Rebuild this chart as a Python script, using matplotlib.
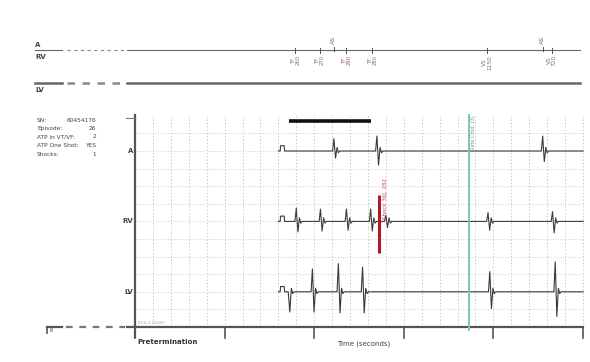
import matplotlib
matplotlib.use("Agg")
import matplotlib.pyplot as plt
import numpy as np

# event times in seconds and deflection sizes in grid units
a_times = [2.22, 2.70, 4.55]
a_up = [0.7, 0.85, 0.85]
a_down = [-0.4, -0.8, -0.6]

rv_times = [1.80, 2.07, 2.36, 2.63, 2.80, 3.94, 4.66]
rv_up = [0.75, 0.7, 0.7, 0.7, 0.35, 0.5, 0.55]
rv_down = [-0.6, -0.55, -0.5, -0.55, -0.35, -0.5, -0.65]

lv_times = [1.71, 1.98, 2.27, 2.54, 3.96, 4.69]
lv_up = [0.0, 1.3, 1.6, 1.4, 1.15, 1.7]
lv_down = [-1.15, -1.15, -1.2, -1.2, -0.95, -1.4]

shock_time = 2.72
shock_span = (4.2, 7.5)
marker_bar = (1.72, 2.63)
rate_cmd_time = 3.73

top_marks = [1.79, 2.06, 2.36, 2.65, 3.93, 4.65]
top_labels = ["TF\n260", "TF\n270", "TF\n290", "TF\n280", "VS\n1150", "VS\n720"]
atrial_marks = [2.22, 4.55]
atrial_labels = ["AS", "AS"]

info_keys = ["SN:", "Episode:", "ATP in VT/VF:", "ATP One Shot:", "Shocks:"]
info_vals = ["60454176", "26", "2", "YES", "1"]
channels = ["A", "RV", "LV"]
baselines = [10, 6, 2]
time_ticks = [0, 1, 2, 3, 4, 5]


def px(x):
    return (x - 135) / 89.6


def py(y):
    return (327 - y) / 17.6


def build_trace(times, ups, downs):
    xs = [1.60, 1.62, 1.625, 1.665, 1.67]
    ys = [0, 0, 0.3, 0.3, 0]
    for t, u, d in zip(times, ups, downs):
        xs += [t - 0.015, t, t + 0.018, t + 0.035, t + 0.05, t + 0.065]
        ys += [0, u, d, 0.2, -0.1, 0]
    xs.append(5.0)
    ys.append(0)
    return np.array(xs), np.array(ys)


fig = plt.figure(figsize=(5.9, 3.62), dpi=100)
ax = fig.add_axes([0, 0, 1, 1])
ax.set_xlim(px(0), px(590))
ax.set_ylim(py(362), py(0))
ax.axis("off")

grid_c = "#bcbcbc"
for gx in np.arange(0.2, 5.01, 0.2):
    ax.plot([gx, gx], [0, py(115)], color=grid_c, lw=0.6, ls=(0, (1.5, 2.5)))
for gy in range(1, 12):
    ax.plot([0, 5], [gy, gy], color=grid_c, lw=0.6, ls=(0, (1, 2)))

# axes frame
ax.plot([0, 0], [py(337), py(115)], color="#555555", lw=1.6)
ax.plot([px(126), 0], [py(118), py(118)], color="#777777", lw=0.8)
ax.plot([px(47), px(47)], [0, py(333)], color="#555555", lw=1.2)
ax.plot([px(47), px(62)], [0, 0], color="#555555", lw=1.6)
ax.plot([px(66), px(125)], [0, 0], color="#777777", lw=1.6, ls=(0, (3, 3)))
ax.plot([px(127), 5.0], [0, 0], color="#555555", lw=1.6)
for tt in time_ticks:
    ax.plot([tt, tt], [0, py(338)], color="#555555", lw=1.2)

# marker channel
for yy, lw in [(py(50), 0.8), (py(83), 1.8)]:
    ax.plot([px(35), px(62)], [yy, yy], color="#666666", lw=lw)
    ax.plot([px(67), px(125)], [yy, yy], color="#888888", lw=lw, ls=(0, (3, 3)))
    ax.plot([px(127), px(580)], [yy, yy], color="#666666", lw=lw)
ax.text(px(35), py(45), "A", fontsize=5, fontweight="bold", color="#444444", va="center")
ax.text(px(35), py(57), "RV", fontsize=5, fontweight="bold", color="#444444", va="center")
ax.text(px(35), py(90), "LV", fontsize=5, fontweight="bold", color="#444444", va="center")

for i, (t, lab) in enumerate(zip(top_marks, top_labels)):
    ax.plot([t, t], [py(48), py(53)], color="#555555", lw=0.7)
    col = "#b05070" if i == 2 else "#777777"
    fs = 4.2 if i >= 4 else 3.8
    ax.text(t, py(55), lab, fontsize=fs, rotation=90, color=col,
            ha="center", va="top", linespacing=0.9)
for t, lab in zip(atrial_marks, atrial_labels):
    ax.plot([t, t], [py(47), py(51)], color="#555555", lw=0.7)
    ax.text(t, py(44), lab, fontsize=4.5, rotation=90, color="#666666",
            ha="center", va="bottom")

# info block
for i, (k, v) in enumerate(zip(info_keys, info_vals)):
    yy = py(120 + i * 8.5)
    ax.text(px(37), yy, k, fontsize=4.2, color="#444444", va="center")
    ax.text(px(96), yy, v, fontsize=4.2, color="#444444", va="center", ha="right")

for name, base in zip(channels, baselines):
    ax.text(px(133), base, name, fontsize=5, fontweight="bold", color="#444444",
            ha="right", va="center")

# traces
for base, (tm, up, dn) in zip(baselines, [(a_times, a_up, a_down),
                                         (rv_times, rv_up, rv_down),
                                         (lv_times, lv_up, lv_down)]):
    xs, ys = build_trace(tm, up, dn)
    ax.plot(xs, ys + base, color="#3a3a3a", lw=0.8)

ax.plot(list(marker_bar), [py(121), py(121)], color="#111111", lw=2.6, solid_capstyle="butt")

ax.plot([shock_time, shock_time], list(shock_span), color="#b01a22", lw=2.2, solid_capstyle="butt")
ax.text(shock_time + 0.08, py(178), "Shock 36J, 282", fontsize=4, rotation=90,
        color="#c05070", ha="center", va="top")

ax.plot([rate_cmd_time, rate_cmd_time], [py(330), py(115)], color="#80c4ad", lw=1.4)
ax.text(rate_cmd_time + 0.045, py(115), "Rate Cmd. (3)", fontsize=3.6, rotation=90,
        color="#5aa88f", ha="center", va="top")

ax.text(px(138), py(323), "ECG 1 (3/20)", fontsize=3, color="#999999", va="center")
ax.text(px(49), py(331), "III", fontsize=3.5, color="#666666", va="center")
ax.text(px(137), py(342), "Pretermination", fontsize=5, fontweight="bold",
        color="#333333", va="center")
ax.text(px(337), py(344), "Time (seconds)", fontsize=5, color="#444444", va="center")

fig.savefig("out.png", dpi=100)
